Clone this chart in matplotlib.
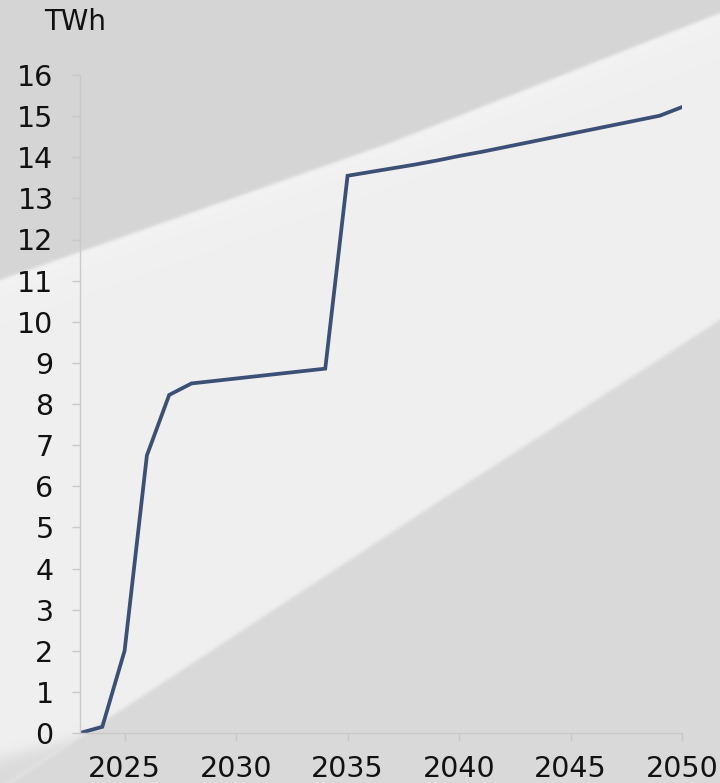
import numpy as np
import matplotlib.pyplot as plt

# Annual electricity demand, TWh
years = list(range(2023, 2051))
twh = [0.0, 0.15, 2.0, 6.75, 8.22, 8.50, 8.56, 8.62, 8.68, 8.74, 8.80, 8.86,
       13.55, 13.64, 13.73, 13.82, 13.92, 14.03, 14.13, 14.24, 14.35, 14.46,
       14.57, 14.68, 14.79, 14.90, 15.01, 15.22]
xticks = [2025, 2030, 2035, 2040, 2045, 2050]
yticks = list(range(0, 17))

W, H = 720, 783
LINE_COLOR = "#3c4f74"
AXIS_COLOR = "#c9c9c9"


def sigmoid(v):
    return 1.0 / (1.0 + np.exp(-v))


def make_background():
    # grey wedge top-left, light band through the middle, grey wedge bottom-right
    yy, xx = np.mgrid[0:H, 0:W] + 0.5
    top_edge = np.interp(xx, [0, 390, 720], [280, 143, 13])
    bot_edge = np.interp(xx, [0, 80, 441, 720], [789, 737, 500, 320])
    corner_edge = np.interp(xx, [0, 85], [758, 737])

    d_top = yy - top_edge
    d_bot = yy - bot_edge
    d_corner = yy - corner_edge

    img = 0.940 + 0.014 * np.exp(-np.clip(d_top, 0, None) / 18.0)
    top_w = sigmoid(-d_top / 1.0)
    img = img * (1 - top_w) + 0.836 * top_w
    bot_w = sigmoid(d_bot / 1.3)
    img = img * (1 - bot_w) + 0.852 * bot_w
    corner_w = sigmoid(d_corner / 4.0) * (1 - bot_w)
    img = img * (1 - corner_w) + 0.86 * corner_w

    rgb = np.dstack([img, img, img * 1.004])
    return np.clip(rgb, 0, 1)


fig = plt.figure(figsize=(W / 100, H / 100), dpi=100)

bg = fig.add_axes([0, 0, 1, 1], zorder=0)
bg.imshow(make_background(), aspect="auto", interpolation="bilinear")
bg.axis("off")

ax = fig.add_axes([80 / W, 1 - 733 / H, (682 - 80) / W, (733 - 75) / H], zorder=1)
ax.patch.set_alpha(0)

ax.plot(years, twh, color=LINE_COLOR, linewidth=2.7, solid_joinstyle="miter")

ax.set_xlim(2023, 2050)
ax.set_ylim(0, 16)
ax.set_xticks(xticks)
ax.set_yticks(yticks)

for side in ["top", "right"]:
    ax.spines[side].set_visible(False)
for side in ["left", "bottom"]:
    ax.spines[side].set_color(AXIS_COLOR)
    ax.spines[side].set_linewidth(1.0)

ax.tick_params(axis="both", colors=AXIS_COLOR, length=6, width=1.0,
               labelcolor="#111111", labelsize=20.5)
ax.tick_params(axis="y", pad=13)
ax.tick_params(axis="x", pad=10)

fig.text(75 / W, 1 - 22 / H, "TWh", ha="center", va="center",
         fontsize=20, color="#111111")

fig.savefig("out.png", dpi=100)
